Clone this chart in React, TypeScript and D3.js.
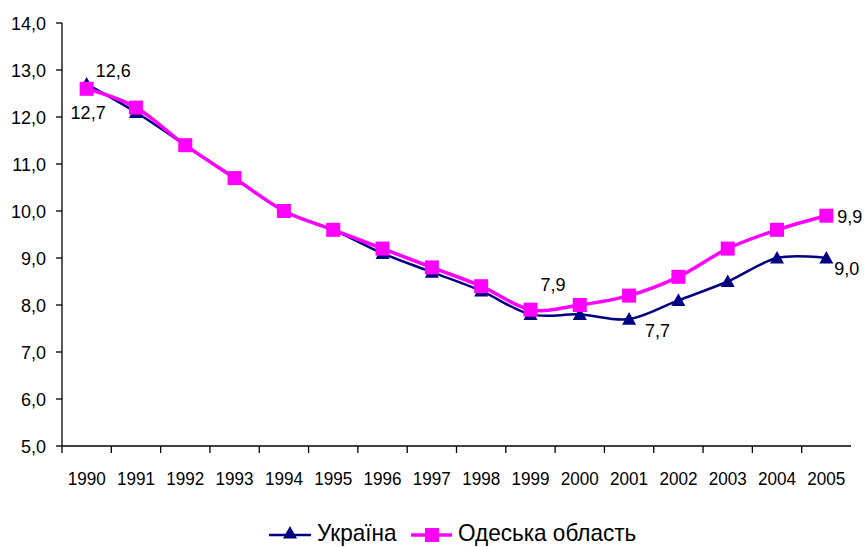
import React from "react";
import * as d3 from "d3";

const years = ["1990","1991","1992","1993","1994","1995","1996","1997","1998","1999","2000","2001","2002","2003","2004","2005"];
const ukraine = [12.7, 12.1, 11.4, 10.7, 10.0, 9.6, 9.1, 8.7, 8.3, 7.8, 7.8, 7.7, 8.1, 8.5, 9.0, 9.0];
const odesa = [12.6, 12.2, 11.4, 10.7, 10.0, 9.6, 9.2, 8.8, 8.4, 7.9, 8.0, 8.2, 8.6, 9.2, 9.6, 9.9];
const yTicks = [5, 6, 7, 8, 9, 10, 11, 12, 13, 14];
const seriesNames = ["Україна", "Одеська область"];

const W = 864, H = 547;
const left = 62, right = 851, top = 23, bottom = 446;
const font = "'Liberation Sans', Arial, sans-serif";

function T({ x, y, fs, sx = 1, anchor = "start", children }: any) {
  return (
    <text transform={`translate(${x},${y}) scale(${sx},1)`} textAnchor={anchor} fontSize={fs} fill="#000">
      {children}
    </text>
  );
}

export default function App() {
  const x = d3.scaleBand<string>().domain(years).range([left, right]);
  const y = d3.scaleLinear().domain([5, 14]).range([bottom, top]);
  const cx = (i: number) => (x(years[i]) as number) + x.bandwidth() / 2;
  const line = d3.line<number>().x((_, i) => cx(i)).y((d) => y(d)).curve(d3.curveCatmullRom.alpha(0));
  const fmt = (v: number) => v.toFixed(1).replace(".", ",");
  const tri = (px: number, py: number, s = 7) => `M${px},${py - s}L${px + s},${py + s * 0.8}L${px - s},${py + s * 0.8}Z`;
  const n = years.length - 1;
  const labels = [
    { v: odesa[0], x: cx(0) + 9, y: y(odesa[0]) - 12, a: "start" },
    { v: ukraine[0], x: cx(0) + 19, y: y(ukraine[0]) + 35, a: "end" },
    { v: odesa[9], x: cx(9) + 10, y: y(odesa[9]) - 19, a: "start" },
    { v: ukraine[11], x: cx(11) + 16, y: y(ukraine[11]) + 18, a: "start" },
    { v: odesa[n], x: cx(n) + 11, y: y(odesa[n]) + 7, a: "start" },
    { v: ukraine[n], x: cx(n) + 8, y: y(ukraine[n]) + 17, a: "start" },
  ];
  return (
    <svg width={W} height={H} style={{ display: "block", position: "absolute", left: 0, top: 0 }} fontFamily={font}>
      <rect width={W} height={H} fill="#fff" />
      <line x1={left} x2={left} y1={top} y2={bottom} stroke="#000" strokeWidth={1.3} />
      <line x1={left} x2={right} y1={bottom} y2={bottom} stroke="#000" strokeWidth={1.3} />
      {yTicks.map((t) => (
        <g key={t}>
          <line x1={left - 6} x2={left} y1={y(t)} y2={y(t)} stroke="#000" strokeWidth={1.3} />
          <T x={left - 16} y={y(t) + 6.5} fs={18} anchor="end">{fmt(t)}</T>
        </g>
      ))}
      {years.map((yr, i) => (
        <g key={yr}>
          <line x1={x(yr) as number} x2={x(yr) as number} y1={bottom} y2={bottom + 7} stroke="#000" strokeWidth={1.3} />
          <T x={cx(i)} y={bottom + 39} fs={19} sx={0.9} anchor="middle">{yr}</T>
        </g>
      ))}
      <path d={line(ukraine) || ""} fill="none" stroke="#000080" strokeWidth={2.5} />
      {ukraine.map((v, i) => <path key={i} d={tri(cx(i), y(v))} fill="#000080" />)}
      <path d={line(odesa) || ""} fill="none" stroke="#FF00FF" strokeWidth={3.5} />
      {odesa.map((v, i) => <rect key={i} x={cx(i) - 7} y={y(v) - 7} width={14} height={14} fill="#FF00FF" />)}
      {labels.map((l, i) => (
        <T key={i} x={l.x} y={l.y} fs={18} anchor={l.a}>{fmt(l.v)}</T>
      ))}
      <line x1={269} x2={311} y1={535} y2={535} stroke="#000080" strokeWidth={2.5} />
      <path d={tri(290, 533)} fill="#000080" />
      <T x={317} y={541} fs={23} sx={0.98}>{seriesNames[0]}</T>
      <line x1={411} x2={452} y1={535} y2={535} stroke="#FF00FF" strokeWidth={3.5} />
      <rect x={425} y={528} width={14} height={14} fill="#FF00FF" />
      <T x={458} y={541} fs={23} sx={0.98}>{seriesNames[1]}</T>
    </svg>
  );
}
